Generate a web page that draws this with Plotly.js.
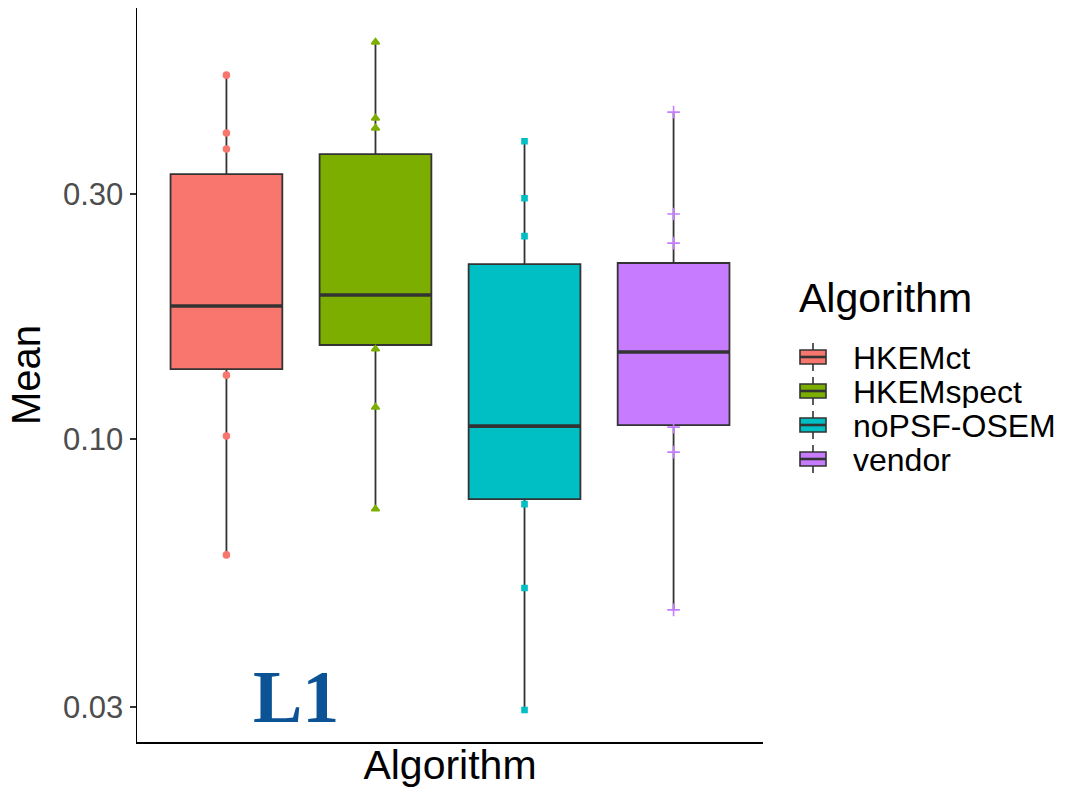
<!DOCTYPE html>
<html>
<head>
<meta charset="utf-8">
<script src="https://cdn.plot.ly/plotly-3.0.1.min.js"></script>
<style>html,body{margin:0;padding:0;background:#fff;}#chart{width:1071px;height:792px;}</style>
</head>
<body>
<div id="chart"></div>
<script>
const algorithms = ['HKEMct', 'HKEMspect', 'noPSF-OSEM', 'vendor'];
const colors = ['#F8766D', '#7CAE00', '#00BFC4', '#C77CFF'];
const symbols = ['circle', 'triangle-up', 'square', 'cross-thin'];
const symbolSizes = [6, 7, 5, 9];

const q1 = [0.1368, 0.1524, 0.0763, 0.1064];
const medians = [0.1815, 0.1908, 0.1059, 0.1477];
const q3 = [0.3283, 0.3591, 0.2192, 0.2202];
const lowerWhisker = [0.0594, 0.0730, 0.0296, 0.0464];
const upperWhisker = [0.5118, 0.5936, 0.3805, 0.4336];

const pointsHKEMct = [0.5118, 0.3946, 0.3673, 0.1331, 0.1013, 0.0594];
const pointsHKEMspect = [0.5936, 0.4220, 0.4035, 0.1497, 0.1153, 0.0730];
const pointsNoPSF = [0.3805, 0.2946, 0.2485, 0.0746, 0.0512, 0.0296];
const pointsVendor = [0.4336, 0.2744, 0.2408, 0.1054, 0.0942, 0.0464];
const pointSets = [pointsHKEMct, pointsHKEMspect, pointsNoPSF, pointsVendor];

const yTickVals = [0.03, 0.1, 0.3];
const yTickText = ['0.03', '0.10', '0.30'];

const traces = [];
algorithms.forEach((alg, i) => {
  traces.push({
    type: 'box',
    name: alg,
    x: [alg],
    q1: [q1[i]],
    median: [medians[i]],
    q3: [q3[i]],
    lowerfence: [lowerWhisker[i]],
    upperfence: [upperWhisker[i]],
    fillcolor: colors[i],
    line: {color: '#333333', width: 1.8},
    whiskerwidth: 0,
    boxpoints: false,
    showlegend: false,
    hoverinfo: 'skip'
  });
});
// thick median lines (ggplot style)
algorithms.forEach((alg, i) => {
  traces.push({
    type: 'box',
    name: alg + ' median',
    x: [alg],
    q1: [medians[i]],
    median: [medians[i]],
    q3: [medians[i]],
    lowerfence: [medians[i]],
    upperfence: [medians[i]],
    fillcolor: 'rgba(0,0,0,0)',
    line: {color: '#333333', width: 3.6},
    whiskerwidth: 0,
    boxpoints: false,
    showlegend: false,
    hoverinfo: 'skip'
  });
});
algorithms.forEach((alg, i) => {
  traces.push({
    type: 'scatter',
    mode: 'markers',
    x: pointSets[i].map(() => alg),
    y: pointSets[i],
    marker: {color: colors[i], size: symbolSizes[i], symbol: symbols[i], line: {color: colors[i], width: 1.6}},
    showlegend: false,
    hoverinfo: 'skip'
  });
});

// custom legend (ggplot-like keys)
const L = 137, T = 8, W = 626, H = 734;
const px = v => (v - L) / W;
const py = v => (T + H - v) / H;
const shapes = [];
const annotations = [];
annotations.push({
  xref: 'paper', yref: 'paper', x: px(797), y: py(298),
  xanchor: 'left', yanchor: 'middle', showarrow: false,
  text: 'Algorithm', font: {size: 41, color: '#000000'}
});
algorithms.forEach((alg, i) => {
  const cy = 357 + i * 34;
  shapes.push({type: 'line', xref: 'paper', yref: 'paper', x0: px(813), x1: px(813), y0: py(cy - 14), y1: py(cy + 14), line: {color: '#333333', width: 1.6}});
  shapes.push({type: 'rect', xref: 'paper', yref: 'paper', x0: px(800), x1: px(826), y0: py(cy - 7), y1: py(cy + 7), fillcolor: colors[i], line: {color: '#333333', width: 1.6}});
  shapes.push({type: 'line', xref: 'paper', yref: 'paper', x0: px(800), x1: px(826), y0: py(cy), y1: py(cy), line: {color: '#333333', width: 2.6}});
  annotations.push({
    xref: 'paper', yref: 'paper', x: px(851), y: py(cy + 1),
    xanchor: 'left', yanchor: 'middle', showarrow: false,
    height: 32, valign: 'middle',
    text: alg, font: {size: 32, color: '#000000'}
  });
});
annotations.push({
  xref: 'paper', yref: 'paper',
  x: 0.254, y: 0.0613,
  xanchor: 'center', yanchor: 'middle',
  text: '<b>L1</b>',
  showarrow: false,
  font: {family: 'Liberation Serif, Times New Roman, serif', size: 74, color: '#0b5394'}
});

const layout = {
  width: 1071,
  height: 792,
  margin: {l: 137, r: 308, t: 8, b: 50},
  paper_bgcolor: '#ffffff',
  plot_bgcolor: '#ffffff',
  font: {family: 'Liberation Sans, Arial, sans-serif', color: '#000000'},
  boxmode: 'overlay',
  boxgap: 0.25,
  boxgroupgap: 0,
  showlegend: false,
  xaxis: {
    type: 'category',
    categoryorder: 'array',
    categoryarray: algorithms,
    range: [-0.6, 3.6],
    showticklabels: false,
    ticks: '',
    showgrid: false,
    zeroline: false,
    showline: true,
    linecolor: '#000000',
    linewidth: 1.5,
    title: {text: 'Algorithm', font: {size: 41, color: '#000000'}, standoff: 8}
  },
  yaxis: {
    type: 'log',
    range: [-1.591, -0.160],
    tickvals: yTickVals,
    ticktext: yTickText,
    ticks: 'outside',
    ticklen: 6,
    tickwidth: 1.3,
    tickcolor: '#333333',
    tickfont: {size: 31, color: '#4d4d4d'},
    showgrid: false,
    zeroline: false,
    showline: true,
    linecolor: '#000000',
    linewidth: 1.5,
    title: {text: 'Mean', font: {size: 40, color: '#000000'}, standoff: 10}
  },
  shapes: shapes,
  annotations: annotations
};

Plotly.newPlot('chart', traces, layout, {displayModeBar: false, staticPlot: true});
</script>
</body>
</html>
